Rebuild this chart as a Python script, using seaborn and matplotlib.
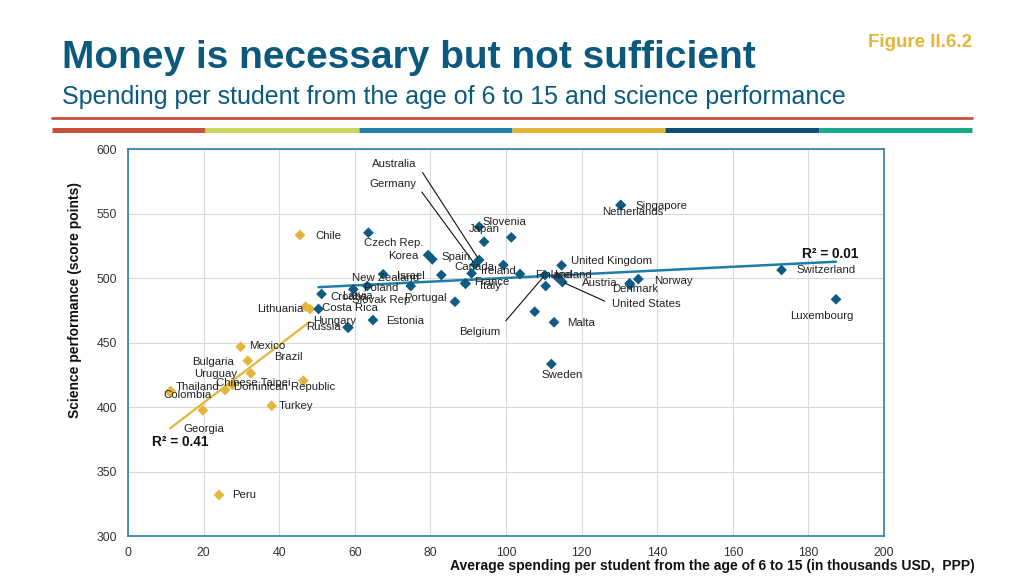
import numpy as np
import pandas as pd
import matplotlib
matplotlib.use("Agg")
import matplotlib.pyplot as plt
from matplotlib.lines import Line2D
import seaborn as sns

# ---------------- data ----------------
low_countries = ["Chile", "Lithuania", "", "Mexico", "Bulgaria", "Uruguay", "Brazil",
                 "Chinese Taipei", "Dominican Republic", "Thailand", "Colombia",
                 "Turkey", "Georgia", "Peru"]
low_spending = [45.5, 47.0, 48.1, 29.8, 31.7, 32.5, 46.4, 27.6, 25.7, 11.3, 11.1, 38.0, 19.8, 24.1]
low_science = [533.3, 477.8, 476.0, 446.7, 435.9, 426.1, 420.4, 417.1, 413.2, 412.4, 411.6,
               401.0, 397.4, 331.8]

high_countries = ["Czech Rep.", "Korea", "Spain", "New Zealand", "Israel", "Poland", "Latvia",
                  "Croatia", "Slovak Rep.", "Portugal", "Costa Rica", "Hungary", "Russia",
                  "Estonia", "Slovenia", "Japan", "", "Australia", "Germany", "Canada",
                  "France", "Italy", "", "Ireland", "Belgium", "Finland", "Iceland", "",
                  "United Kingdom", "United States", "Malta", "Sweden", "Austria", "Denmark",
                  "Norway", "Netherlands", "Singapore", "Switzerland", "Luxembourg"]
high_spending = [63.6, 79.4, 80.5, 67.5, 82.9, 63.3, 59.6, 51.2, 74.8, 86.5, 50.4, 58.1, 58.3,
                 64.8, 92.9, 94.2, 101.4, 92.9, 91.8, 90.9, 89.2, 89.3, 99.3, 103.7, 110.3,
                 110.5, 113.5, 107.6, 114.7, 114.9, 112.7, 112.0, 132.7, 132.8, 135.0, 130.3,
                 130.4, 172.9, 187.3]
high_science = [535.1, 517.8, 514.5, 502.9, 502.3, 493.8, 491.2, 487.6, 493.8, 481.6, 476.0,
                461.8, 461.5, 467.4, 539.8, 528.1, 531.5, 514.0, 510.5, 503.6, 495.9, 495.5,
                510.1, 503.1, 502.3, 493.8, 500.8, 473.9, 509.8, 496.9, 465.7, 433.3, 495.9,
                494.6, 499.2, 556.6, 556.5, 506.2, 483.5]

x_ticks = [0, 20, 40, 60, 80, 100, 120, 140, 160, 180, 200]
y_ticks = [300, 350, 400, 450, 500, 550, 600]
r2_low = "R² = 0.41"
r2_high = "R² = 0.01"

# label placement (offset in pixels from the marker, alignment)
label_style = {
    "Chile": (15, -1, "left"), "Lithuania": (-2, -2, "right"), "Mexico": (8, 0.7, "left"),
    "Bulgaria": (-13.7, -1, "right"), "Brazil": (-29, 23.4, "left"),
    "Uruguay": (-13.7, -0.7, "right"), "Chinese Taipei": (-16.6, 2.3, "left"),
    "Dominican Republic": (9, 2.7, "left"), "Thailand": (5, 4.3, "left"),
    "Colombia": (-7, -3, "left"), "Turkey": (6.6, -0.3, "left"),
    "Georgia": (-19.7, -19, "left"), "Peru": (13, 0, "left"),
    "Czech Rep.": (-4, -10, "left"), "Korea": (-10, -1, "right"), "Spain": (9, 2.6, "left"),
    "New Zealand": (-31, -3.4, "left"), "Israel": (-44, -1, "left"),
    "Poland": (-4.3, -1.7, "left"), "Latvia": (-11.3, -6.7, "left"),
    "Croatia": (9, -3.3, "left"), "Slovak Rep.": (-58.4, -14, "left"),
    "Portugal": (-51, 3.4, "left"), "Costa Rica": (3, 0.7, "left"),
    "Hungary": (-34.7, 6.6, "left"), "Russia": (-42, 0.6, "left"),
    "Estonia": (13, -0.7, "left"), "Slovenia": (3.3, 5, "left"), "Japan": (-15, 12.4, "left"),
    "Australia": (-106.7, 96, "left"), "Germany": (-106, 80.3, "left"),
    "Canada": (-17.7, 6, "left"), "France": (9, 1.6, "left"), "Italy": (14, -1.7, "left"),
    "Ireland": (-39.3, 3, "left"), "Belgium": (-86, -57.3, "left"),
    "Finland": (-11, 11, "left"), "Iceland": (-2, 2, "left"),
    "United Kingdom": (9.3, 4.3, "left"), "United States": (49.4, -22.3, "left"),
    "Austria": (-47.4, 0, "left"), "Denmark": (-18.3, -4, "left"),
    "Norway": (15.7, -1.7, "left"), "Malta": (13.3, -1, "left"), "Sweden": (-9.6, -11, "left"),
    "Netherlands": (-18.4, -6.7, "left"), "Singapore": (15, -1, "left"),
    "Switzerland": (14.6, 0, "left"), "Luxembourg": (-45.6, -16.4, "left"),
}
leaders = {"Australia": (1, 0.5), "Germany": (1, 0.5), "Belgium": (1, 1.0),
           "United States": (0, 0.5)}

# ---------------- style ----------------
sns.set_theme(style="whitegrid")
plt.rcParams["font.family"] = ["Liberation Sans", "DejaVu Sans"]

BLUE = "#0f5b82"
GOLD = "#e3b53a"
TEAL = "#2a7fa6"
TITLE_BLUE = "#0b5a7e"
LABEL_FS = 8.2

df = pd.concat([
    pd.DataFrame({"country": low_countries, "spending": low_spending,
                  "science": low_science, "group": "low"}),
    pd.DataFrame({"country": high_countries, "spending": high_spending,
                  "science": high_science, "group": "high"}),
], ignore_index=True)

fig = plt.figure(figsize=(10.24, 5.76), dpi=100)
fig.patch.set_facecolor("white")
ax = fig.add_axes([0.125, 0.0694, 0.7383, 0.6719])

sns.regplot(data=df[df.group == "low"], x="spending", y="science", scatter=False, ci=None,
            truncate=True, color=GOLD, line_kws={"lw": 1.6, "zorder": 2}, ax=ax)
sns.regplot(data=df[df.group == "high"], x="spending", y="science", scatter=False, ci=None,
            truncate=True, color="#1f7ea6", line_kws={"lw": 1.8, "zorder": 2}, ax=ax)
sns.scatterplot(data=df, x="spending", y="science", hue="group",
                palette={"low": GOLD, "high": BLUE}, marker="D", s=30,
                edgecolor="none", legend=False, zorder=3, ax=ax)

for _, r in df.iterrows():
    name = r["country"]
    if not name:
        continue
    dx, dy, ha = label_style[name]
    if name in leaders:
        ax.annotate(name, xy=(r["spending"], r["science"]), xytext=(dx, dy),
                    textcoords="offset pixels", ha=ha, va="center", fontsize=LABEL_FS,
                    color="#222222", zorder=4,
                    arrowprops=dict(arrowstyle="-", color="#111111", lw=0.8,
                                    relpos=leaders[name], shrinkA=3, shrinkB=2))
    else:
        ax.annotate(name, xy=(r["spending"], r["science"]), xytext=(dx, dy),
                    textcoords="offset pixels", ha=ha, va="center", fontsize=LABEL_FS,
                    color="#222222", zorder=4)

ax.text(178.2, 518.4, r2_high, fontsize=9.8, fontweight="bold", color="#111111",
        ha="left", va="center")
ax.text(6.3, 372.6, r2_low, fontsize=9.8, fontweight="bold", color="#111111",
        ha="left", va="center")

ax.set_xlim(0, 200)
ax.set_ylim(300, 600)
ax.set_xticks(x_ticks)
ax.set_yticks(y_ticks)
ax.set_xlabel("")
ax.set_ylabel("")
ax.tick_params(axis="both", labelsize=8.8, colors="#333333", length=0, pad=8)
ax.grid(True, color="#d9d9d9", lw=0.8)
ax.set_facecolor("white")
for sp in ax.spines.values():
    sp.set_visible(True)
    sp.set_color(TEAL)
    sp.set_linewidth(1.2)

# axis titles
fig.text(0.952, 0.017, "Average spending per student from the age of 6 to 15 (in thousands USD,  PPP)",
         ha="right", va="center", fontsize=10, fontweight="bold", color="#111111")
fig.text(0.073, 0.479, "Science performance (score points)", rotation=90,
         ha="center", va="center", fontsize=10, fontweight="bold", color="#111111")

# header
fig.text(0.0605, 0.899, "Money is necessary but not sufficient", ha="left", va="center",
         fontsize=28, fontweight="bold", color=TITLE_BLUE)
fig.text(0.0605, 0.832, "Spending per student from the age of 6 to 15 and science performance",
         ha="left", va="center", fontsize=18, color=TITLE_BLUE)
fig.text(0.949, 0.927, "Figure II.6.2", ha="right", va="center", fontsize=13.5,
         fontweight="bold", color=GOLD)

x0, x1 = 52 / 1024, 972 / 1024
fig.add_artist(Line2D([x0, x1], [0.795, 0.795], transform=fig.transFigure,
                      color="#c9503c", lw=2.0))
seg_colors = ["#c9503c", "#c8d65c", "#1f80a8", "#e2b537", "#0f4d72", "#1ca88a"]
w = (x1 - x0) / len(seg_colors)
for i, c in enumerate(seg_colors):
    fig.add_artist(Line2D([x0 + i * w, x0 + (i + 1) * w], [0.774, 0.774],
                          transform=fig.transFigure, color=c, lw=3.6,
                          solid_capstyle="butt"))

fig.savefig("out.png", dpi=100, facecolor="white")
